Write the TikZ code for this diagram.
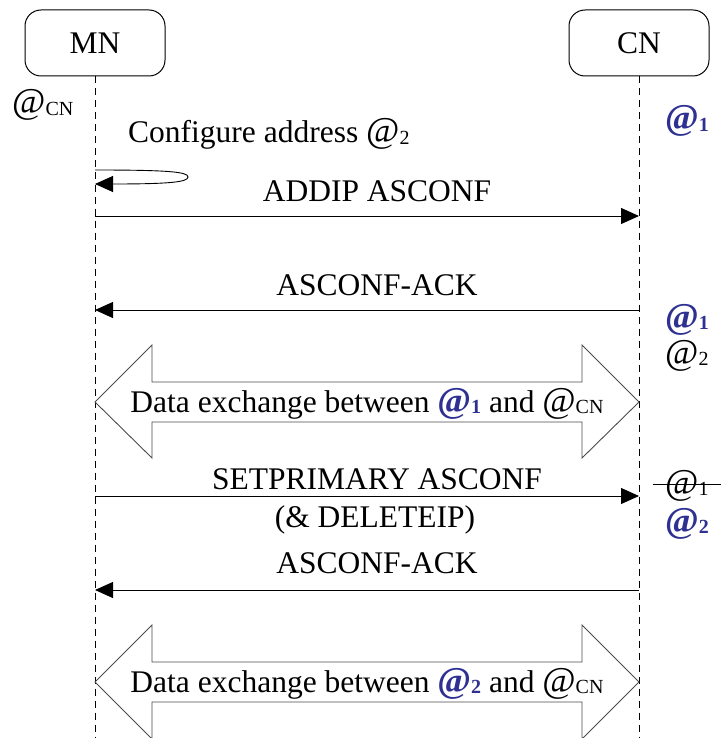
\documentclass[tikz,border=0pt]{standalone}
\usepackage{fontspec}
\setmainfont{Liberation Serif}
\usetikzlibrary{arrows.meta}
\definecolor{addrblue}{RGB}{46,49,146}
\newcommand\subx[1]{\raisebox{-1.5pt}{\fontsize{20}{20}\selectfont #1}}
\newcommand\bigat{\scalebox{1.15}{@}}
\newcommand\addr[1]{\bigat\subx{#1}}
\newcommand\baddr[1]{\textcolor{addrblue}{\bfseries \bigat\subx{#1}}}
\begin{document}
\begin{tikzpicture}[x=1pt,y=-1pt,font=\fontsize{31.5}{38}\selectfont,
  entity/.style={draw, rounded corners=16pt, minimum width=140pt, minimum height=66pt, line width=1pt, inner sep=0},
  lifeline/.style={dash pattern=on 7pt off 5pt, line width=1pt},
  msg/.style={-{Triangle[length=18pt,width=16pt]}, line width=1pt},
  bigarrow/.style={draw=black!70, line width=0.9pt, fill=white},
  lbl/.style={anchor=base, inner sep=0},
  addrlbl/.style={anchor=base west, inner sep=0}]
\useasboundingbox (0,0) rectangle (720,738);

% entities
\node[entity] (MN) at (95,43) {MN};
\node[entity] (CN) at (639,43) {CN};
\coordinate (MNend) at (95,740);
\coordinate (CNend) at (639,740);
\draw[lifeline] (MN.south) -- (MNend);
\draw[lifeline] (CN.south) -- (CNend);

% address labels
\node[addrlbl] (acn) at (12,114) {\addr{CN}};
\node[addrlbl] (r1) at (665,130) {\baddr{1}};
\node[addrlbl] (r2) at (665,328) {\baddr{1}};
\node[addrlbl] (r3) at (665,364) {\addr{2}};
\node[addrlbl] (r4) at (665,494) {\addr{1}};
\node[addrlbl] (r5) at (665,532) {\baddr{2}};
\coordinate (stA) at (653,484);
\coordinate (stB) at (722,484);
\draw[line width=1pt] (stA) -- (stB);

% self message
\node[addrlbl] (cfg) at (128,143) {Configure address \addr{2}};
\coordinate (s1) at (95,170);
\coordinate (s2) at (95,184);
\draw[msg, line width=0.9pt] (s1) .. controls (170,170) and (188,172) .. (188,177) .. controls (188,182) and (170,184) .. (s2);

% ADDIP
\coordinate (a1) at (95,216);
\coordinate (b1) at (639,216);
\node[lbl] (m1) at (377,201) {ADDIP ASCONF};
\draw[msg] (a1) -- (b1);

% ASCONF-ACK
\coordinate (a2) at (95,310);
\coordinate (b2) at (639,310);
\node[lbl] (m2) at (377,295) {ASCONF-ACK};
\draw[msg] (b2) -- (a2);

% data exchange 1
\draw[bigarrow] (95,402) -- (152,345) -- (152,382) -- (582,382) -- (582,345) -- (639,402)
  -- (582,458) -- (582,422) -- (152,422) -- (152,458) -- cycle;
\node[lbl] (d1) at (367,412) {Data exchange between \baddr{1} and \addr{CN}};

% SETPRIMARY
\coordinate (a3) at (95,496);
\coordinate (b3) at (639,496);
\node[lbl] (m3) at (377,489) {SETPRIMARY ASCONF};
\node[lbl] (m3b) at (375,527) {(\& DELETEIP)};
\draw[msg] (a3) -- (b3);

% ASCONF-ACK 2
\coordinate (a4) at (95,590);
\coordinate (b4) at (639,590);
\node[lbl] (m4) at (377,573) {ASCONF-ACK};
\draw[msg] (b4) -- (a4);

% data exchange 2
\draw[bigarrow] (95,682) -- (152,625) -- (152,662) -- (582,662) -- (582,625) -- (639,682)
  -- (582,739) -- (582,702) -- (152,702) -- (152,739) -- cycle;
\node[lbl] (d2) at (367,692) {Data exchange between \baddr{2} and \addr{CN}};
\end{tikzpicture}
\end{document}
